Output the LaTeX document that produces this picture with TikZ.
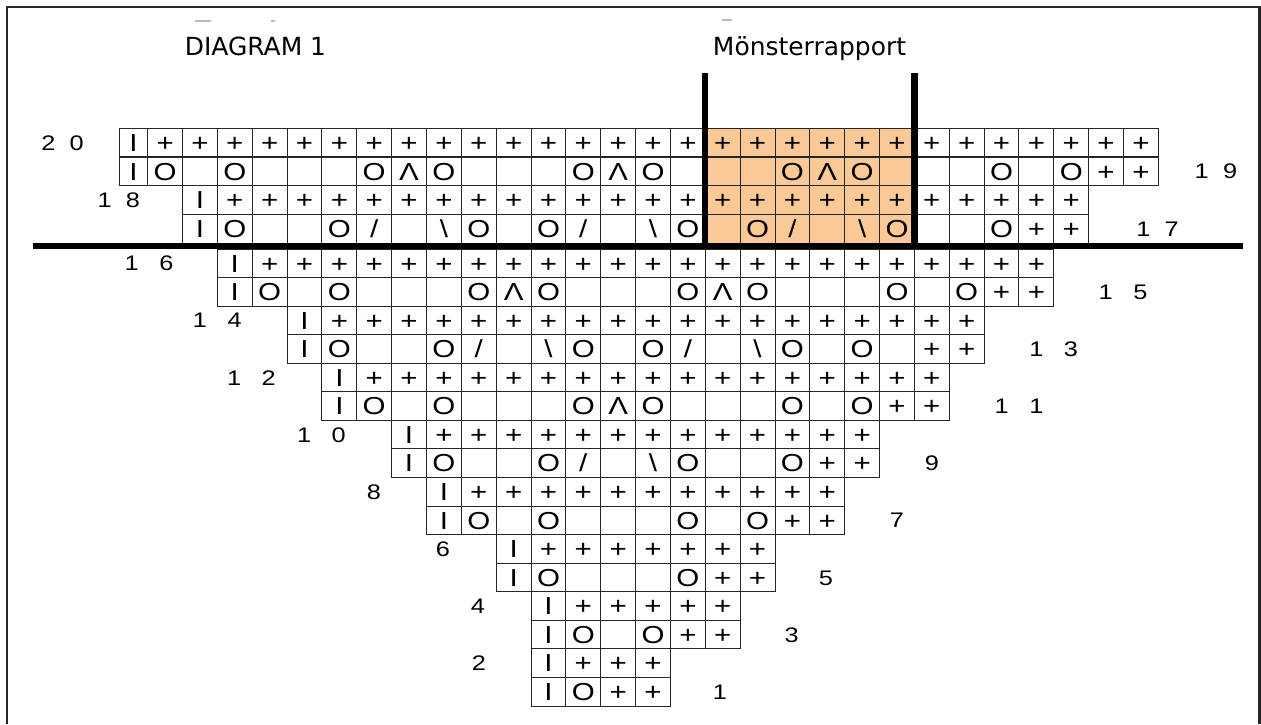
\documentclass[tikz,border=0pt]{standalone}
\usepackage{fontspec}
\setmainfont{DejaVu Sans}
\newfontfamily\chartfont[FakeStretch=1.2]{Liberation Sans}
\definecolor{rapport}{RGB}{251,201,150}
\newcommand{\gapA}{\hspace{8.1pt}}
\newcommand{\gapB}{\hspace{11.7pt}}
% one pattern row: row number, y, first column, stitches
\newcommand{\patternrow}[4]{%
  \foreach \s [count=\j from #3] in {#4}
    \node[cell] (r#1-\j) at ({147.7+34.85*(\j+0.5)}, #2) {\s};}

\begin{document}
\begin{tikzpicture}[x=0.02cm, y=-0.02cm,
  cell/.style={draw=black!85, line width=0.55pt,
    minimum width=0.697cm, minimum height=0.572cm,
    inner sep=0pt, outer sep=0pt, text height=10pt, text depth=0pt,
    font=\chartfont\fontsize{14}{15}\selectfont},
  narrow/.style={cell, minimum width=0.574cm},
  num/.style={inner sep=0pt, text height=8.6pt, text depth=0pt,
    font=\chartfont\fontsize{12}{13}\selectfont},
  title/.style={inner sep=0pt, anchor=base,
    font=\fontsize{14.2}{15}\selectfont},
  bar/.style={line width=3.6pt},
  scrap/.style={gray!55, line width=1pt},
]
\useasboundingbox (0,0) rectangle (1261,724);
% frame and leftovers
\draw[black!85, line width=1.2pt] (7,724) -- (7,7.3) -- (1259.5,7.3) -- (1259.5,724);
\draw[scrap] (195,20.7) -- (211,20.7);
\draw[scrap] (270.7,20.7) -- (275,20.7);
\draw[scrap] (721.7,20) -- (731.7,20);
% titles
\node[title] (diag) at (255.5,55) {DIAGRAM 1};
\node[title] (rep) at (809.5,55) {Mönsterrapport};
% pattern repeat
\fill[rapport] (705.3,128.3) rectangle (914.4,246);
% plain rows
\node[narrow] (r20-n) at (133.35,142.65) {I};
\node[narrow] (r19-n) at (133.35,171.35) {I};
\foreach \r/\y/\a/\b in {20/142.65/0/28, 18/200.05/2/26, 16/263.28/3/25,
    14/320.40/5/23, 12/377.52/6/22, 10/434.64/8/20, 8/491.76/9/19,
    6/548.88/11/17, 4/606.00/12/16, 2/663.12/12/14}{
  \foreach \k in {\a,...,\b}
    \node[cell] (r\r-\k) at ({147.7+34.85*(\k+0.5)}, \y) {+};
  \ifnum\r<20
    \pgfmathtruncatemacro\i{\a-1}
    \node[cell] (r\r-\i) at ({147.7+34.85*(\i+0.5)}, \y) {I};
  \fi
}
% pattern rows
\patternrow{19}{171.35}{0}{O,{},O,{},{},{},O,Λ,O,{},{},{},O,Λ,O,{},{},{},O,Λ,O,{},{},{},O,{},O,+,+}
\patternrow{17}{228.75}{1}{I,O,{},{},O,/,{},\textbackslash,O,{},O,/,{},\textbackslash,O,{},O,/,{},\textbackslash,O,{},{},O,+,+}
\patternrow{15}{291.84}{2}{I,O,{},O,{},{},{},O,Λ,O,{},{},{},O,Λ,O,{},{},{},O,{},O,+,+}
\patternrow{13}{348.96}{4}{I,O,{},{},O,/,{},\textbackslash,O,{},O,/,{},\textbackslash,O,{},O,{},+,+}
\patternrow{11}{406.08}{5}{I,O,{},O,{},{},{},O,Λ,O,{},{},{},O,{},O,+,+}
\patternrow{9}{463.20}{7}{I,O,{},{},O,/,{},\textbackslash,O,{},{},O,+,+}
\patternrow{7}{520.32}{8}{I,O,{},O,{},{},{},O,{},O,+,+}
\patternrow{5}{577.44}{10}{I,O,{},{},{},O,+,+}
\patternrow{3}{634.56}{11}{I,O,{},O,+,+}
\patternrow{1}{691.68}{11}{I,O,+,+}
% repeat and section bars
\draw[bar] (705.3,73.3) -- (705.3,246);
\draw[bar] (914.4,73.3) -- (914.4,246);
\draw[bar] (32.7,246) -- (1242.7,246);
% row numbers
\node[num] (n20) at (62.5,142.65) {2\gapA 0};
\node[num] (n19) at (1215.9,171.35) {1\gapA 9};
\node[num] (n18) at (118.9,200.05) {1\gapA 8};
\node[num] (n17) at (1157.5,228.75) {1\gapA 7};
\node[num] (n16) at (149,263.28) {1\gapB 6};
\node[num] (n15) at (1123,291.84) {1\gapB 5};
\node[num] (n14) at (217.3,320.40) {1\gapB 4};
\node[num] (n13) at (1053.7,348.96) {1\gapB 3};
\node[num] (n12) at (251.4,377.52) {1\gapB 2};
\node[num] (n11) at (1019,406.08) {1\gapB 1};
\node[num] (n10) at (321.4,434.64) {1\gapB 0};
\node[num] (n9) at (932,463.20) {9};
\node[num] (n8) at (374,491.76) {8};
\node[num] (n7) at (897,520.32) {7};
\node[num] (n6) at (443,548.88) {6};
\node[num] (n5) at (826,577.44) {5};
\node[num] (n4) at (478,606.00) {4};
\node[num] (n3) at (791.7,634.56) {3};
\node[num] (n2) at (479,663.12) {2};
\node[num] (n1) at (720,691.68) {1};
\end{tikzpicture}
\end{document}
